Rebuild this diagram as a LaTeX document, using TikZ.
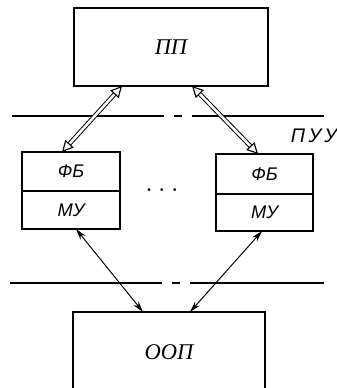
\documentclass[tikz,border=0pt]{standalone}
\usepackage{fontspec}
\setmainfont{Liberation Serif}
\newfontfamily\handfont{Liberation Sans}
\usetikzlibrary{arrows.meta,positioning}
\tikzset{
  block/.style={draw, line width=1.4pt, outer sep=0pt, inner sep=0pt, font=\fontsize{16}{18}\selectfont\itshape},
  cell/.style={draw, line width=1.4pt, outer sep=0pt, inner sep=0pt, font=\handfont\fontsize{13}{15}\selectfont\itshape},
  border/.style={line width=1.2pt, dash pattern=on 3.8cm off 0.25cm on 0.2cm off 0.25cm},
  dlink/.style={line width=0.7pt, double distance=1.8pt, {Triangle[open,length=8pt,width=8pt,line width=0.8pt]}-{Triangle[open,length=8pt,width=8pt,line width=0.8pt]}},
  slink/.style={line width=0.7pt, {Stealth[length=8pt,width=4.5pt]}-{Stealth[length=8pt,width=4.5pt]}}
}
\begin{document}
\begin{tikzpicture}
  \useasboundingbox (0,0) rectangle (8.4,9.7);

  % planning level
  \node[block, minimum width=4.85cm, minimum height=1.95cm] (pp) at (4.275,8.525) {ПП};

  % boundary lines
  \draw[border] (0.3,6.8) -- (8.1,6.8);
  \draw[border] (0.25,2.625) -- (8.1,2.625);
  \node[anchor=west, font=\handfont\fontsize{14}{16}\selectfont\itshape] (puu) at (7.15,6.3) {П\,У\,У};

  % local units
  \node[cell, minimum width=2.45cm, minimum height=0.975cm] (fbl) at (1.775,5.4125) {ФБ};
  \node[cell, minimum width=2.45cm, minimum height=0.95cm, below=0pt of fbl] (mul) {МУ};
  \node[cell, minimum width=2.425cm, minimum height=1.0cm] (fbr) at (6.6125,5.35) {ФБ};
  \node[cell, minimum width=2.425cm, minimum height=0.925cm, below=0pt of fbr] (mur) {МУ};
  \node[font=\huge] (dots) at (4.05,4.95) {$\ldots$};

  % object
  \node[block, minimum width=4.8cm, minimum height=2.0cm] (oop) at (4.225,0.9) {ООП};

  % links
  \draw[dlink] ([xshift=-1.225cm]pp.south) -- ([xshift=-0.225cm]fbl.north);
  \draw[dlink] ([xshift=0.525cm]pp.south) -- ([xshift=-0.16cm]fbr.north);
  \draw[slink] ([xshift=0.125cm]mul.south) -- ([xshift=-0.65cm]oop.north);
  \draw[slink] ([xshift=-0.06cm]mur.south) -- ([xshift=0.525cm]oop.north);
\end{tikzpicture}
\end{document}
